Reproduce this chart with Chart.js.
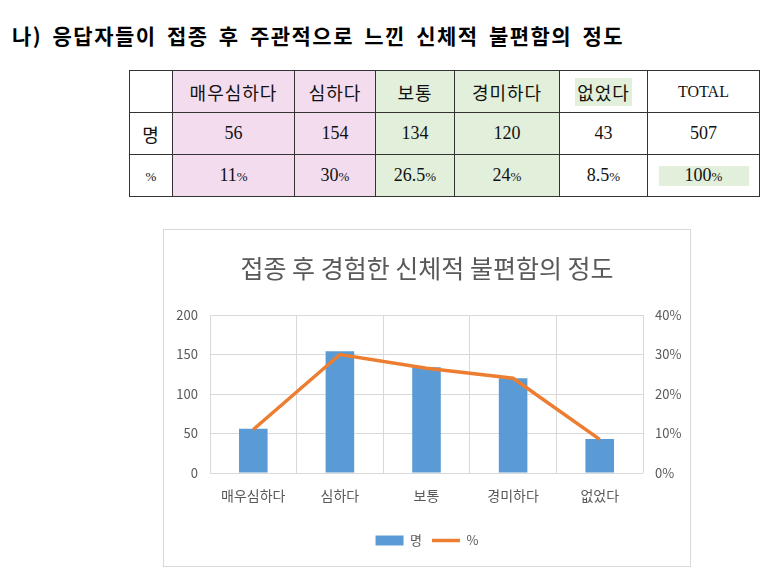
<!DOCTYPE html>
<html>
<head>
<meta charset="utf-8">
<script src="https://cdn.jsdelivr.net/npm/chart.js"></script>
<style>
  body { margin: 0; background: #fff; width: 780px; height: 585px; position: relative; overflow: hidden; }
  h1 { position: absolute; left: 12px; top: 22px; margin: 0; font: bold 21px "Noto Sans CJK KR"; letter-spacing: 1.5px; word-spacing: 4px; color: #000; line-height: 26px; }
  table { position: absolute; left: 129px; top: 70px; border-collapse: collapse; table-layout: fixed; width: 630px; }
  td { border: 1px solid #333; height: 41px; padding: 0; text-align: center; font: 18px "Liberation Serif"; color: #111; }
  td.ko { font: 18px "Noto Sans CJK KR"; letter-spacing: 1px; }
  td.pink { background: #f3dcee; }
  td.green { background: #e2efda; }
  .pc { font-size: 13px; }
  .hl { background: #e2efda; padding: 1px 2px; }
  .hlbox { display: inline-block; width: 90px; background: #e2efda; line-height: 19px; }
  #box { position: absolute; left: 163px; top: 229px; width: 528px; height: 338px; border: 1px solid #d9d9d9; box-sizing: border-box; }
</style>
</head>
<body>
<h1>나) 응답자들이 접종 후 주관적으로 느낀 신체적 불편함의 정도</h1>
<table id="tbl">
  <colgroup>
    <col style="width:43px"><col style="width:122px"><col style="width:81px"><col style="width:79px">
    <col style="width:105px"><col style="width:88px"><col style="width:112px">
  </colgroup>
</table>
<div id="box"><canvas id="chart"></canvas></div>
<script>
const categories = ['매우심하다', '심하다', '보통', '경미하다', '없었다']
const counts = [56, 154, 134, 120, 43]
const percents = [11, 30, 26.5, 24, 8.5]
const total = 507
const totalPercent = 100
const cellColors = ['pink', 'pink', 'green', 'green', '', '']

// 표 만들기
const tbl = document.querySelector('#tbl')
let head = '<tr><td></td>'
categories.forEach((c, i) => {
    let txt = i == 4 ? `<span class="hl">${c}</span>` : c
    head += `<td class="ko ${cellColors[i]}">${txt}</td>`
})
head += '<td style="font-size:16px">TOTAL</td></tr>'

let row1 = '<tr><td class="ko">명</td>'
counts.forEach((v, i) => { row1 += `<td class="${cellColors[i]}">${v}</td>` })
row1 += `<td>${total}</td></tr>`

let row2 = '<tr><td><span class="pc">%</span></td>'
percents.forEach((v, i) => { row2 += `<td class="${cellColors[i]}">${v}<span class="pc">%</span></td>` })
row2 += `<td><span class="hlbox">${totalPercent}<span class="pc">%</span></span></td></tr>`
tbl.innerHTML += head + row1 + row2

// 차트
const gridColor = '#d9d9d9'
const textColor = '#595959'
const font = 'Noto Sans CJK KR'

new Chart(document.querySelector('#chart'), {
    data: {
        labels: categories,
        datasets: [{
            type: 'bar',
            label: '명',
            data: counts,
            backgroundColor: '#5b9bd5',
            borderWidth: 0,
            barPercentage: 0.33,
            categoryPercentage: 1,
            pointStyle: 'rect',
            yAxisID: 'y',
            order: 1
        }, {
            type: 'line',
            label: '%',
            data: percents,
            borderColor: '#ed7d31',
            backgroundColor: '#ed7d31',
            borderWidth: 3.5,
            pointRadius: 0,
            pointStyle: 'line',
            tension: 0,
            yAxisID: 'y1',
            order: 0
        }]
    },
    options: {
        responsive: true,
        maintainAspectRatio: false,
        animation: false,
        layout: { padding: { left: 0, right: 0, top: 0, bottom: 9 } },
        plugins: {
            title: {
                display: true,
                text: '접종 후 경험한 신체적 불편함의 정도',
                color: textColor,
                font: { family: font, size: 25, weight: 'normal', lineHeight: 1.2 },
                padding: { top: 23, bottom: 32 }
            },
            legend: {
                position: 'bottom',
                labels: {
                    usePointStyle: true,
                    pointStyleWidth: 28,
                    boxHeight: 10,
                    color: textColor,
                    font: { family: font, size: 13 },
                    padding: 10,
                    sort: (a, b) => a.datasetIndex - b.datasetIndex
                }
            },
            tooltip: { enabled: false }
        },
        scales: {
            x: {
                grid: { color: gridColor, offset: true, drawTicks: false },
                border: { display: false },
                ticks: { color: textColor, font: { family: font, size: 14 }, padding: 14 },
                afterFit: s => { s.height = 51 }
            },
            y: {
                position: 'left',
                min: 0, max: 200,
                ticks: { stepSize: 50, color: textColor, font: { family: font, size: 13 }, padding: 12 },
                grid: { color: gridColor, drawTicks: false },
                border: { display: false },
                afterFit: s => { s.width = 46 }
            },
            y1: {
                position: 'right',
                min: 0, max: 40,
                ticks: { stepSize: 10, color: textColor, font: { family: font, size: 13 }, padding: 12, callback: v => v + '%' },
                grid: { drawOnChartArea: false, drawTicks: false },
                border: { display: false },
                afterFit: s => { s.width = 47 }
            }
        }
    }
})
</script>
</body>
</html>
